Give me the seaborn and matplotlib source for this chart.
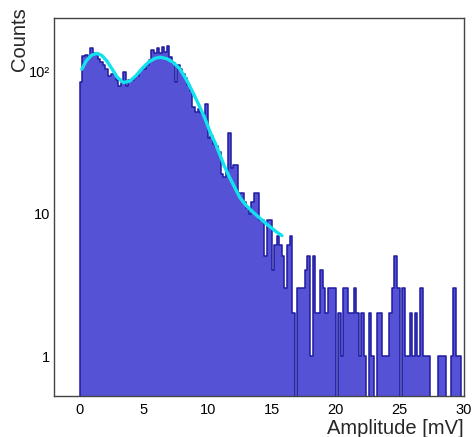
import numpy as np
import pandas as pd
import matplotlib
matplotlib.use("Agg")
import matplotlib.pyplot as plt
import seaborn as sns
from matplotlib.ticker import MultipleLocator, LogLocator, FixedLocator, FixedFormatter, NullFormatter

# ---- data ----
bin_edges_range = (0.0, 30.0)
counts = [
    84, 127, 130, 126, 146, 134, 133, 122, 116, 110,
    104, 93, 96, 96, 87, 78, 82, 99, 78, 87,
    87, 90, 93, 100, 104, 104, 110, 120, 140, 133,
    146, 133, 147, 135, 150, 126, 113, 84, 110, 104,
    96, 89, 80, 72, 56, 52, 54, 51, 50, 59,
    34, 35, 31, 30, 27, 19, 18, 20, 37, 21,
    22, 22, 14, 14, 12, 11, 10, 12, 14, 14,
    9, 9, 5, 9, 9, 4, 6, 7, 6, 5,
    3, 6, 7, 2, 0, 3, 3, 3, 4, 5,
    1, 5, 2, 2, 4, 3, 2, 3, 3, 3,
    0, 2, 1, 3, 3, 2, 2, 3, 2, 1,
    2, 1, 0, 2, 1, 0, 2, 2, 1, 1,
    1, 2, 3, 5, 3, 0, 3, 1, 1, 2,
    1, 2, 1, 3, 1, 1, 1, 0, 0, 0,
    1, 1, 1, 0, 0, 1, 3, 1, 1, 0,
]
fit_x = [0.15, 0.5, 0.9, 1.3, 1.7, 2.1, 2.5, 2.9, 3.4, 3.9, 4.4, 4.9, 5.4, 5.9,
         6.3, 6.8, 7.3, 7.8, 8.3, 8.8, 9.3, 9.8, 10.2, 10.6, 10.9, 11.3, 11.7,
         12.1, 12.5, 13.0, 13.5, 14.0, 14.5, 15.0, 15.4, 15.8]
fit_y = [103, 118, 129, 133, 129, 118, 104, 91, 83, 85, 93, 105, 116, 123,
         125, 122, 115, 104, 88, 72, 58, 46, 37, 31, 26.5, 21.5, 18,
         15.3, 13.0, 11.4, 10.3, 9.4, 8.6, 7.9, 7.4, 7.0]
x_title = "Amplitude [mV]"
y_title = "Counts"
y_tick_vals = [1, 10, 100]
y_tick_labels = ["1", "10", "10\u00b2"]

# ---- style ----
sns.set_style("white")
plt.rcParams["font.family"] = ["Liberation Sans", "DejaVu Sans"]

W, H = 475, 437
fig = plt.figure(figsize=(W / 100, H / 100), dpi=100)
left, right, top, bottom = 54.3, 463.5, 18.3, 396.0
ax = fig.add_axes([left / W, 1 - bottom / H, (right - left) / W, (bottom - top) / H])

nbins = len(counts)
bw = (bin_edges_range[1] - bin_edges_range[0]) / nbins
centers = bin_edges_range[0] + bw * (np.arange(nbins) + 0.5)
df = pd.DataFrame({"amp": centers, "n": np.asarray(counts, dtype=float)})

sns.histplot(data=df, x="amp", weights="n", binwidth=bw, binrange=bin_edges_range,
             element="step", fill=True,
             color="#5652d6", alpha=1.0, edgecolor="#1f1ba0", linewidth=1.1, ax=ax)
ax.set_yscale("log")

fit_df = pd.DataFrame({"x": fit_x, "y": fit_y})
sns.lineplot(data=fit_df, x="x", y="y", color="#12e2ee", linewidth=2.4,
             estimator=None, sort=False, ax=ax)

ax.set_xlim(-2, 30)
ax.set_ylim(0.524, 234.5)

ax.xaxis.set_major_locator(MultipleLocator(5))
ax.xaxis.set_minor_locator(MultipleLocator(1))
ax.yaxis.set_major_locator(FixedLocator(y_tick_vals))
ax.yaxis.set_major_formatter(FixedFormatter(y_tick_labels))
ax.yaxis.set_minor_locator(LogLocator(base=10, subs=np.arange(2, 10)))
ax.yaxis.set_minor_formatter(NullFormatter())

ax.tick_params(which="both", direction="in", top=False, right=False,
               colors="#222222", labelcolor="black", width=0.8)
ax.tick_params(axis="y", which="major", length=8.6, pad=3, labelsize=10.5)
ax.tick_params(axis="y", which="minor", length=5)
ax.tick_params(axis="x", which="major", length=8, pad=5, labelsize=10.5)
ax.tick_params(axis="x", which="minor", length=4)

for s in ax.spines.values():
    s.set_color("#444444")
    s.set_linewidth(1.0)

ax.set_xlabel("")
ax.set_ylabel("")
fig.text(20 / W, 1 - 7 / H, y_title, rotation=90, ha="center", va="top", fontsize=14.5)
fig.text(463.5 / W, 3.5 / H, x_title, ha="right", va="baseline", fontsize=14.5)

fig.savefig("out.png", dpi=100)
